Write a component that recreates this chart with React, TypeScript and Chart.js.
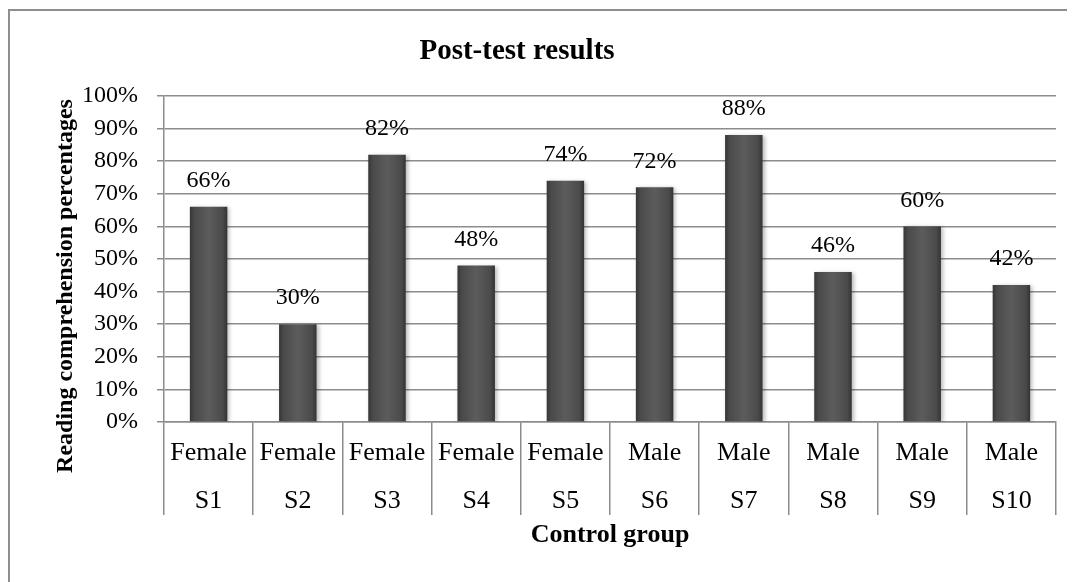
import React, { useEffect, useRef } from "react";
import { Chart, registerables } from "chart.js";

Chart.register(...registerables);

const students = ["S1", "S2", "S3", "S4", "S5", "S6", "S7", "S8", "S9", "S10"];
const genders = ["Female", "Female", "Female", "Female", "Female", "Male", "Male", "Male", "Male", "Male"];
const scores = [66, 30, 82, 48, 74, 72, 88, 46, 60, 42];
const yTicks = [0, 10, 20, 30, 40, 50, 60, 70, 80, 90, 100];
const chartTitle = "Post-test results";
const xTitle = "Control group";
const yTitle = "Reading comprehension percentages";

const SERIF = "'Liberation Serif', 'Times New Roman', serif";
const GRID = "#8c8c8c";
const CAT_PCT = 0.42;

const textPlugin = {
  id: "textPlugin",
  beforeDatasetsDraw(chart: any) {
    const ctx = chart.ctx;
    ctx.save();
    ctx.shadowColor = "rgba(0,0,0,0.28)";
    ctx.shadowBlur = 4;
    ctx.shadowOffsetX = 2;
    ctx.shadowOffsetY = 1;
  },
  afterDatasetsDraw(chart: any) {
    const ctx = chart.ctx;
    ctx.restore();
    ctx.save();
    ctx.fillStyle = "#000";
    ctx.font = `24px ${SERIF}`;
    ctx.textAlign = "center";
    ctx.textBaseline = "middle";
    const meta = chart.getDatasetMeta(0);
    meta.data.forEach((el: any, i: number) => {
      ctx.fillText(`${scores[i]}%`, el.x, el.y - 26);
    });
    ctx.restore();
  },
  afterDraw(chart: any) {
    const ctx = chart.ctx;
    ctx.save();
    ctx.fillStyle = "#000";
    ctx.font = `bold 29px ${SERIF}`;
    ctx.textAlign = "center";
    ctx.textBaseline = "alphabetic";
    ctx.fillText(chartTitle, 509, 51);
    ctx.translate(64, 278);
    ctx.rotate(-Math.PI / 2);
    ctx.font = `bold 24px ${SERIF}`;
    ctx.fillText(yTitle, 0, 0);
    ctx.restore();
  },
};

export default function App() {
  const ref = useRef<HTMLCanvasElement | null>(null);
  useEffect(() => {
    document.documentElement.style.overflow = "hidden";
    document.body.style.overflow = "hidden";
    if (!ref.current) return;
    const chart = new Chart(ref.current, {
      type: "bar",
      data: {
        labels: students.map((s, i) => [genders[i], s]),
        datasets: [
          {
            data: scores,
            categoryPercentage: CAT_PCT,
            barPercentage: 1,
            borderWidth: 0,
            backgroundColor: (c: any) => {
              const ch = c.chart;
              const xs = ch.scales?.x;
              if (!ch.chartArea || !xs) return "#4a4a4a";
              const cx = xs.getPixelForValue(c.dataIndex);
              const w = (xs.getPixelForValue(1) - xs.getPixelForValue(0)) * CAT_PCT;
              const g = ch.ctx.createLinearGradient(cx - w / 2, 0, cx + w / 2, 0);
              g.addColorStop(0, "#363636");
              g.addColorStop(0.12, "#4a4a4a");
              g.addColorStop(0.5, "#5c5c5c");
              g.addColorStop(0.88, "#4a4a4a");
              g.addColorStop(1, "#333333");
              return g;
            },
          },
        ],
      },
      options: {
        animation: false,
        responsive: false,
        devicePixelRatio: 1,
        layout: { padding: { top: 88, left: 0, right: 11, bottom: 23 } },
        plugins: {
          legend: { display: false },
          title: { display: false },
          tooltip: { enabled: false },
        },
        scales: {
          x: {
            grid: {
              offset: true,
              drawOnChartArea: false,
              drawTicks: true,
              tickLength: 93,
              color: GRID,
              lineWidth: 1.5,
            },
            border: { display: true, color: GRID, width: 1.5 },
            ticks: {
              autoSkip: false,
              maxRotation: 0,
              minRotation: 0,
              padding: -86,
              color: "#000",
              font: { family: SERIF, size: 26, lineHeight: 1.846 },
            },
            title: {
              display: true,
              text: xTitle,
              color: "#000",
              padding: { top: 0, bottom: 0 },
              font: { family: SERIF, size: 26, weight: "bold", lineHeight: 1.2 },
            },
            afterFit: (s: any) => {
              s.height = 129;
            },
          },
          y: {
            min: 0,
            max: 100,
            afterBuildTicks: (s: any) => {
              s.ticks = yTicks.map((v) => ({ value: v }));
            },
            grid: {
              color: GRID,
              lineWidth: 1.5,
              drawTicks: true,
              tickLength: 7,
            },
            border: { display: true, color: GRID, width: 1.5 },
            ticks: {
              padding: 19,
              color: "#000",
              font: { family: SERIF, size: 24 },
              callback: (v: any) => `${v}%`,
            },
            afterFit: (s: any) => {
              s.width = 156;
            },
          },
        },
      },
      plugins: [textPlugin],
    } as any);
    return () => chart.destroy();
  }, []);

  return (
    <div style={{ position: "relative", width: 1067, height: 574, overflow: "hidden" }}>
      <canvas ref={ref} width={1059} height={566} style={{ display: "block", width: 1059, height: 566 }} />
      <div
        style={{
          position: "absolute",
          left: 0,
          top: 1,
          width: 1067,
          height: 2,
          background: "#8e8e8e",
          pointerEvents: "none",
        }}
      />
      <div
        style={{
          position: "absolute",
          left: 0,
          top: 1,
          width: 2,
          height: 573,
          background: "#8e8e8e",
          pointerEvents: "none",
        }}
      />
    </div>
  );
}
